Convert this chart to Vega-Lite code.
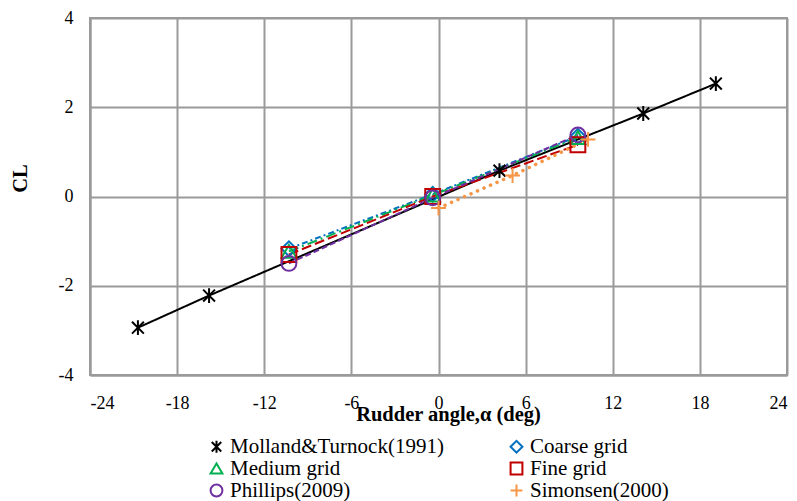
{
  "$schema": "https://vega.github.io/schema/vega-lite/v6.json",
  "autosize": "none",
  "width": 697,
  "height": 357,
  "padding": {"left": 90, "top": 18, "right": 10, "bottom": 126},
  "background": "white",
  "config": {
    "font": "Liberation Serif",
    "view": {"stroke": "#9a9a9a", "strokeWidth": 2},
    "axis": {
      "gridColor": "#9a9a9a", "gridWidth": 2, "domainColor": "#9a9a9a", "domainWidth": 2,
      "ticks": false, "labelFont": "Liberation Serif", "labelFontSize": 18, "labelColor": "#000",
      "titleFont": "Liberation Serif", "titleFontSize": 20.5, "titleFontWeight": "bold", "titleColor": "#000"
    },
    "legend": {
      "labelFont": "Liberation Serif", "labelFontSize": 21, "labelColor": "#000", "labelLimit": 400
    }
  },
  "data": {
    "values": [
      {"series": "Molland&Turnock(1991)", "x": -20.7, "y": -2.94},
      {"series": "Molland&Turnock(1991)", "x": -15.8, "y": -2.22},
      {"series": "Molland&Turnock(1991)", "x": 4.2, "y": 0.58},
      {"series": "Molland&Turnock(1991)", "x": 14.1, "y": 1.86},
      {"series": "Molland&Turnock(1991)", "x": 19.1, "y": 2.53},
      {"series": "Coarse grid", "x": -10.3, "y": -1.17},
      {"series": "Coarse grid", "x": -0.4, "y": 0.05},
      {"series": "Coarse grid", "x": 9.6, "y": 1.35},
      {"series": "Medium grid", "x": -10.3, "y": -1.23},
      {"series": "Medium grid", "x": -0.4, "y": 0.03},
      {"series": "Medium grid", "x": 9.6, "y": 1.32},
      {"series": "Fine grid", "x": -10.3, "y": -1.3},
      {"series": "Fine grid", "x": -0.4, "y": 0.0},
      {"series": "Fine grid", "x": 9.6, "y": 1.16},
      {"series": "Phillips(2009)", "x": -10.3, "y": -1.5},
      {"series": "Phillips(2009)", "x": -0.4, "y": -0.03},
      {"series": "Phillips(2009)", "x": 9.6, "y": 1.38},
      {"series": "Simonsen(2000)", "x": 0.0, "y": -0.26},
      {"series": "Simonsen(2000)", "x": 5.1, "y": 0.47},
      {"series": "Simonsen(2000)", "x": 10.3, "y": 1.28}
    ]
  },
  "encoding": {
    "x": {"field": "x", "type": "quantitative", "scale": {"domain": [-24, 24]},
      "axis": {"values": [-24, -18, -12, -6, 0, 6, 12, 18, 24], "labelExpr": "'' + datum.value", "title": "Rudder angle,α (deg)", "labelPadding": 19, "titleY": 39, "titleBaseline": "middle", "titleX": 358}},
    "y": {"field": "y", "type": "quantitative", "scale": {"domain": [-4, 4]},
      "axis": {"values": [-4, -2, 0, 2, 4], "labelExpr": "'' + datum.value", "title": "CL", "labelPadding": 17, "titleX": -70, "titleY": 160, "titleAngle": 270, "titleAlign": "center", "titleBaseline": "middle"}}
  },
  "layer": [
    {
      "transform": [{"filter": "datum.series !== 'Simonsen(2000)'"}],
      "mark": {"type": "line", "strokeWidth": 2},
      "encoding": {
        "detail": {"field": "series"},
        "stroke": {"field": "series", "type": "nominal", "legend": null,
          "scale": {"domain": ["Molland&Turnock(1991)", "Coarse grid", "Medium grid", "Fine grid", "Phillips(2009)"],
            "range": ["#000000", "#0070C0", "#00B050", "#C00000", "#7030A0"]}},
        "strokeDash": {"field": "series", "type": "nominal", "legend": null,
          "scale": {"domain": ["Molland&Turnock(1991)", "Coarse grid", "Medium grid", "Fine grid", "Phillips(2009)"],
            "range": [[1, 0], [6, 3, 2, 3], [10, 4, 2, 4], [10, 4], [6, 3]]}}
      }
    },
    {
      "transform": [{"filter": "datum.series === 'Simonsen(2000)'"}],
      "mark": {"type": "line", "strokeWidth": 3.5, "strokeCap": "round", "strokeDash": [0.1, 7], "color": "#F79646"},
      "encoding": {}
    },
    {
      "mark": {"type": "point", "filled": false, "strokeWidth": 2, "size": 220, "opacity": 1},
      "encoding": {
        "color": {"field": "series", "type": "nominal", "title": null,
          "scale": {"domain": ["Molland&Turnock(1991)", "Coarse grid", "Medium grid", "Fine grid", "Phillips(2009)", "Simonsen(2000)"],
            "range": ["#000000", "#0070C0", "#00B050", "#C00000", "#7030A0", "#F79646"]},
          "legend": {"orient": "none", "direction": "horizontal", "legendX": 116, "legendY": 418, "columns": 2, "symbolSize": 140, "symbolStrokeWidth": 2, "rowPadding": 0, "columnPadding": 62, "labelOffset": 3}},
        "shape": {"field": "series", "type": "nominal",
          "scale": {"domain": ["Molland&Turnock(1991)", "Coarse grid", "Medium grid", "Fine grid", "Phillips(2009)", "Simonsen(2000)"],
            "range": ["M-0.8,-0.8L0.8,0.8M-0.8,0.8L0.8,-0.8M0,-1L0,1", "diamond", "triangle-up", "square", "circle", "M-1,0L1,0M0,-1L0,1"]}}
      }
    }
  ]
}
